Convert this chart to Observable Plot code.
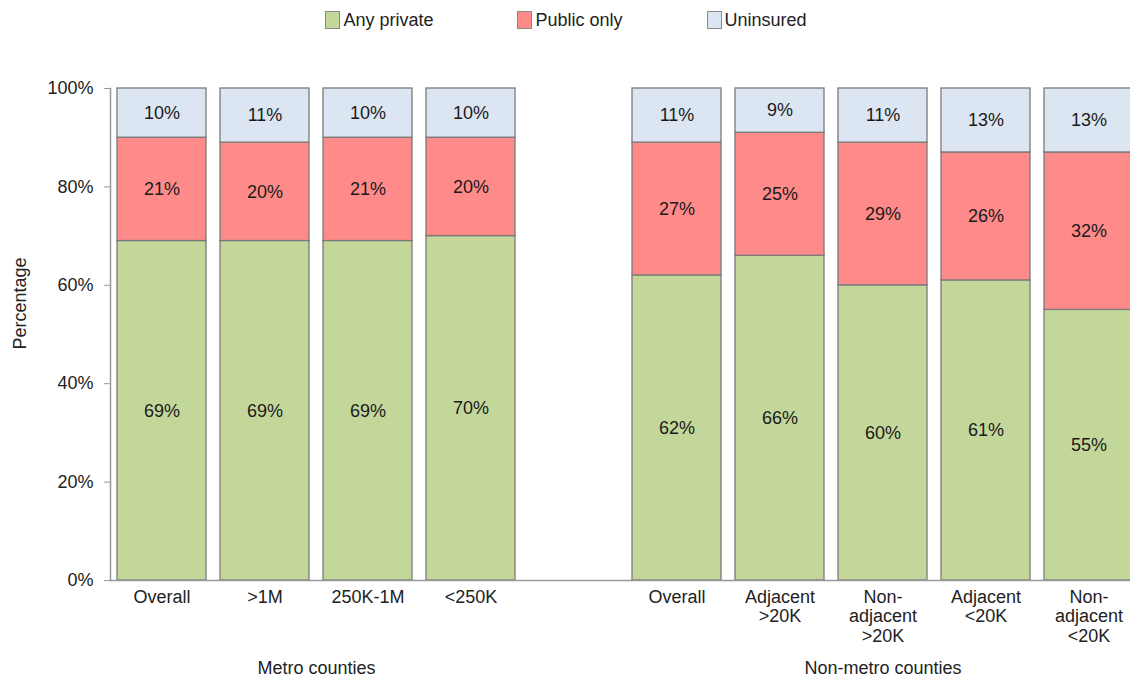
<!DOCTYPE html>
<html><head><meta charset="utf-8">
<script src="https://cdn.jsdelivr.net/npm/d3@7"></script>
<script src="https://cdn.jsdelivr.net/npm/@observablehq/plot@0.6"></script>
<style>
body{margin:0;background:#fff;font-family:"Liberation Sans",Arial,sans-serif;overflow:hidden;}
#legend{height:40px;display:flex;justify-content:center;align-items:center;gap:84px;font-size:18px;color:#222;padding-left:2px;}
#legend .item{display:flex;align-items:center;}
#legend .sw{width:15px;height:18px;border:1px solid #888;margin-right:3px;box-sizing:border-box;}
#chart svg{display:block;overflow:hidden;}
</style></head><body>
<div id="legend"></div><div id="chart"></div>
<script>
const categoryKeys = ["m-overall","m-gt1m","m-250k-1m","m-lt250k","gap","n-overall","n-adj-gt20k","n-nonadj-gt20k","n-adj-lt20k","n-nonadj-lt20k"];
const categoryLabels = ["Overall", ">1M", "250K-1M", "<250K", "", "Overall", "Adjacent\n>20K", "Non-\nadjacent\n>20K", "Adjacent\n<20K", "Non-\nadjacent\n<20K"];
const series = ["Any private","Public only","Uninsured"];
const seriesColors = ["#c4d79b","#ff8a8a","#dce6f2"];
const anyPrivate = [69,69,69,70,null,62,66,60,61,55];
const publicOnly = [21,20,21,20,null,27,25,29,26,32];
const uninsured  = [10,11,10,10,null,11,9,11,13,13];
const groupLabels = ["Metro counties","Non-metro counties"];
const groupAnchors = ["m-gt1m","n-nonadj-gt20k"];
const yTicks = [0,20,40,60,80,100];

const valuesBySeries = [anyPrivate, publicOnly, uninsured];
const rows = [];
categoryKeys.forEach((k,i)=>{
  series.forEach((s,j)=>{
    const v = valuesBySeries[j][i];
    if (v != null) rows.push({cat:k, series:s, value:v});
  });
});
const labelOf = Object.fromEntries(categoryKeys.map((k,i)=>[k,categoryLabels[i]]));

// legend
const lg = document.getElementById("legend");
series.forEach((s,i)=>{
  const it = document.createElement("div"); it.className="item";
  const sw = document.createElement("div"); sw.className="sw"; sw.style.background=seriesColors[i];
  const t = document.createElement("span"); t.textContent=s;
  it.appendChild(sw); it.appendChild(t); lg.appendChild(it);
});

const stackOpts = {x:"cat", y:"value", z:"series", order: series};
const chart = Plot.plot({
  width:1130, height:641,
  marginTop:48, marginBottom:101, marginLeft:110, marginRight:-10,
  style:{fontFamily:'"Liberation Sans", Arial, sans-serif', fontSize:"18px", color:"#222", background:"#fff"},
  x:{type:"band", domain:categoryKeys, paddingInner:0.136, paddingOuter:0.068, axis:null},
  y:{domain:[0,100], axis:null},
  color:{domain:series, range:seriesColors},
  marks:[
    Plot.barY(rows, Plot.stackY({...stackOpts, fill:"series", stroke:"#7a7a7a", strokeWidth:1.3})),
    Plot.text(rows, Plot.stackY({...stackOpts, text:d=>d.value+"%", fill:"#1a1a1a", fontSize:18})),
    Plot.ruleY([0], {stroke:"#999", strokeWidth:1.5}),
    Plot.frame({anchor:"left", stroke:"#999", strokeWidth:1.5}),
    Plot.axisY({ticks:yTicks, tickFormat:d=>d+"%", tickSize:6, tickPadding:11, stroke:"#999", fill:"#222", fontSize:18, label:null}),
    Plot.axisX({ticks:categoryKeys.filter(k=>k!=="gap"), tickFormat:k=>labelOf[k], tickSize:0, tickPadding:8, fill:"#222", fontSize:18, lineHeight:1.1, label:null}),
    Plot.text(groupLabels, {x:(d,i)=>groupAnchors[i], text:d=>d, frameAnchor:"bottom", lineAnchor:"middle", dy:88, fill:"#222", fontSize:18}),
    Plot.text(["Percentage"], {text:d=>d, frameAnchor:"left", textAnchor:"middle", dx:-90, dy:-31, rotate:-90, fill:"#222", fontSize:18})
  ]
});
document.getElementById("chart").appendChild(chart);
// shift metro group label half a step to centre it between the 2nd and 3rd bars
const xs = chart.scale("x");
chart.querySelectorAll("text").forEach(t=>{
  if (t.textContent==="Metro counties") t.setAttribute("transform", (t.getAttribute("transform")||"") + ` translate(${xs.step/2},0)`);
});
</script>
</body></html>
